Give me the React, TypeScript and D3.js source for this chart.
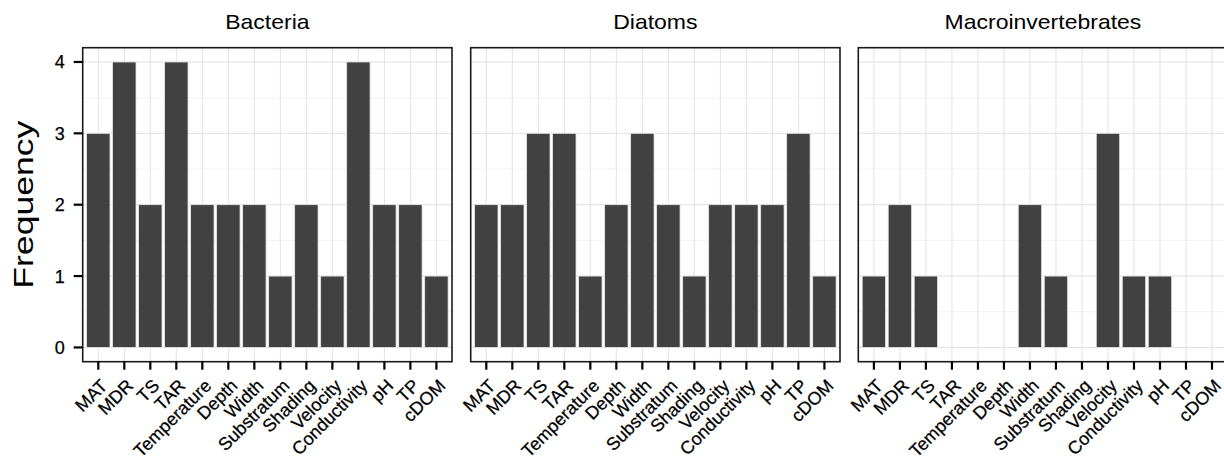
import * as d3 from 'd3';
import React, { useEffect, useRef } from 'react';

const variables = ['MAT', 'MDR', 'TS', 'TAR', 'Temperature', 'Depth', 'Width', 'Substratum', 'Shading', 'Velocity', 'Conductivity', 'pH', 'TP', 'cDOM'];
const groups = ['Bacteria', 'Diatoms', 'Macroinvertebrates'];
const bacteria = [3, 4, 2, 4, 2, 2, 2, 1, 2, 1, 4, 2, 2, 1];
const diatoms = [2, 2, 3, 3, 1, 2, 3, 2, 1, 2, 2, 2, 3, 1];
const macroinvertebrates = [1, 2, 1, 0, 0, 0, 2, 1, 0, 3, 1, 1, 0, 0];
const yTicks = [0, 1, 2, 3, 4];

const App = () => {
    const d3Container = useRef(null);
    const svgWidth = 1224;
    const svgHeight = 470;
    const panelLefts = [82.7, 470.7, 858.3];
    const panelWidth = 369.3;
    const panelTop = 47.7;
    const panelBottom = 361.7;
    const font = '"Liberation Sans", Arial, Helvetica, sans-serif';

    useEffect(() => {
        if (d3Container.current) {
            drawGraph();
        }
    }, []);

    const drawGraph = () => {
        const svg = d3.select(d3Container.current);
        svg.selectAll('*').remove();

        const series = [bacteria, diatoms, macroinvertebrates];
        const y = d3.scaleLinear().domain([-0.2, 4.2]).range([panelBottom, panelTop]);

        groups.forEach((name, gi) => {
            const left = panelLefts[gi];
            const x = d3.scalePoint()
                .domain(variables)
                .range([left, left + panelWidth])
                .padding(0.6);
            const barW = x.step() * 0.9;
            const g = svg.append('g');

            // minor grid at half values
            d3.range(-0.5, 4.5, 1).filter(v => v > -0.2 && v < 4.2).forEach(v => {
                g.append('line')
                    .attr('x1', left).attr('x2', left + panelWidth)
                    .attr('y1', y(v)).attr('y2', y(v))
                    .attr('stroke', '#f0f0f0').attr('stroke-width', 0.8);
            });
            // major grid
            yTicks.forEach(v => {
                g.append('line')
                    .attr('x1', left).attr('x2', left + panelWidth)
                    .attr('y1', y(v)).attr('y2', y(v))
                    .attr('stroke', '#e2e2e2').attr('stroke-width', 1);
            });
            variables.forEach(v => {
                g.append('line')
                    .attr('x1', x(v)).attr('x2', x(v))
                    .attr('y1', panelTop).attr('y2', panelBottom)
                    .attr('stroke', '#e2e2e2').attr('stroke-width', 1);
            });

            // bars
            g.selectAll('rect.bar')
                .data(variables.map((v, i) => ({ v, value: series[gi][i] })).filter(d => d.value > 0))
                .enter()
                .append('rect')
                .attr('class', 'bar')
                .attr('x', d => x(d.v) - barW / 2)
                .attr('width', barW)
                .attr('y', d => y(d.value))
                .attr('height', d => y(0) - y(d.value))
                .attr('fill', '#414141')
                .attr('stroke', '#e6e6e6')
                .attr('stroke-width', 0.8);

            // panel border
            g.append('rect')
                .attr('x', left).attr('y', panelTop)
                .attr('width', panelWidth).attr('height', panelBottom - panelTop)
                .attr('fill', 'none')
                .attr('stroke', '#1a1a1a')
                .attr('stroke-width', 1.6);

            // strip title
            g.append('text')
                .attr('transform', `translate(${left + panelWidth / 2},29) scale(1.15,1)`)
                .attr('text-anchor', 'middle')
                .style('font-family', font)
                .style('font-size', '20px')
                .attr('fill', '#000')
                .text(name);

            // x ticks and labels
            variables.forEach(v => {
                g.append('line')
                    .attr('x1', x(v)).attr('x2', x(v))
                    .attr('y1', panelBottom).attr('y2', panelBottom + 8)
                    .attr('stroke', '#000').attr('stroke-width', 2.2);
                g.append('text')
                    .attr('transform', `translate(${x(v) + 1},${panelBottom + 16}) rotate(-45)`)
                    .attr('text-anchor', 'end')
                    .attr('dy', '0.72em')
                    .style('font-family', font)
                    .style('font-size', '18px')
                    .attr('fill', '#000')
                    .attr('stroke', '#000')
                    .attr('stroke-width', 0.25)
                    .text(v);
            });

            // y axis only on first panel
            if (gi === 0) {
                yTicks.forEach(v => {
                    g.append('line')
                        .attr('x1', left - 9).attr('x2', left)
                        .attr('y1', y(v)).attr('y2', y(v))
                        .attr('stroke', '#000').attr('stroke-width', 2.2);
                    g.append('text')
                        .attr('x', left - 18)
                        .attr('y', y(v))
                        .attr('dy', '0.36em')
                        .attr('text-anchor', 'end')
                        .style('font-family', font)
                        .style('font-size', '18px')
                        .attr('fill', '#000')
                        .attr('stroke', '#000')
                        .attr('stroke-width', 0.25)
                        .text(v);
                });
            }
        });

        // y axis title
        svg.append('text')
            .attr('transform', `translate(33,${(panelTop + panelBottom) / 2}) rotate(-90)`)
            .attr('text-anchor', 'middle')
            .attr('textLength', 168)
            .attr('lengthAdjust', 'spacingAndGlyphs')
            .style('font-family', font)
            .style('font-size', '28px')
            .attr('fill', '#000')
            .text('Frequency');
    };

    return (
        <div style={{ position: 'absolute', left: 0, top: 0 }}>
            <svg ref={d3Container} width={svgWidth} height={svgHeight} style={{ display: 'block', background: '#fff' }}></svg>
        </div>
    );
};

export default App;
